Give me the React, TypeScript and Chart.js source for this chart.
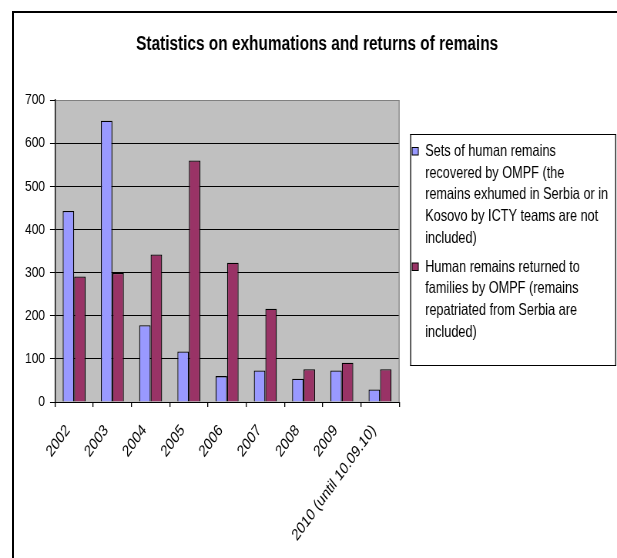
import React, { useEffect, useRef } from 'react';
import { Chart, registerables } from 'chart.js';

Chart.register(...registerables);

// The reference is horizontally compressed; draw wide, display squashed.
const R = 0.77;
const W = 617;
const H = 558;
const IW = Math.round(W / R);

const chartTitle = 'Statistics on exhumations and returns of remains';
const categories = ['2002', '2003', '2004', '2005', '2006', '2007', '2008', '2009', '2010 (until 10.09.10)'];
const recoveredValues = [443, 652, 178, 117, 60, 73, 54, 73, 29];
const returnedValues = [291, 299, 342, 560, 323, 216, 76, 91, 76];
const yTickValues = [0, 100, 200, 300, 400, 500, 600, 700];
const recoveredLegendLines = [
  'Sets of human remains',
  'recovered by OMPF (the',
  'remains exhumed in Serbia or in',
  'Kosovo by ICTY teams are not',
  'included)',
];
const returnedLegendLines = [
  'Human remains returned to',
  'families by OMPF (remains',
  'repatriated from Serbia are',
  'included)',
];

const FONT = '"Liberation Sans", Arial, sans-serif';
const sx = (x: number) => x / R;

const decorPlugin = {
  id: 'decor',
  beforeDraw(chart: any) {
    const { ctx, chartArea } = chart;
    ctx.save();
    ctx.fillStyle = '#C0C0C0';
    ctx.fillRect(chartArea.left, chartArea.top, chartArea.right - chartArea.left, chartArea.bottom - chartArea.top);
    ctx.restore();
  },
  afterDraw(chart: any) {
    const { ctx, chartArea } = chart;
    ctx.save();
    // plot area right border
    ctx.strokeStyle = '#808080';
    ctx.lineWidth = 1.3;
    ctx.beginPath();
    ctx.moveTo(chartArea.right, chartArea.top);
    ctx.lineTo(chartArea.right, chartArea.bottom);
    ctx.stroke();

    // title
    ctx.fillStyle = '#000';
    ctx.font = `bold 20px ${FONT}`;
    ctx.textAlign = 'center';
    ctx.textBaseline = 'middle';
    ctx.fillText(chartTitle, sx(317), 44);

    // legend box
    const bx = sx(410);
    const bw = sx(616) - bx;
    ctx.fillStyle = '#fff';
    ctx.fillRect(bx, 134, bw, 232);
    ctx.strokeStyle = '#000';
    ctx.lineWidth = 1;
    ctx.beginPath();
    ctx.moveTo(bx, 134.5);
    ctx.lineTo(bx + bw, 134.5);
    ctx.moveTo(bx, 365.5);
    ctx.lineTo(bx + bw, 365.5);
    ctx.stroke();
    ctx.lineWidth = 1.3;
    ctx.beginPath();
    ctx.moveTo(bx + 0.65, 134);
    ctx.lineTo(bx + 0.65, 366);
    ctx.moveTo(bx + bw - 0.65, 134);
    ctx.lineTo(bx + bw - 0.65, 366);
    ctx.stroke();

    const items = [
      { lines: recoveredLegendLines, color: chart.data.datasets[0].backgroundColor, y0: 151.5 },
      { lines: returnedLegendLines, color: chart.data.datasets[1].backgroundColor, y0: 267 },
    ];
    ctx.font = `16.5px ${FONT}`;
    ctx.textAlign = 'left';
    ctx.textBaseline = 'middle';
    items.forEach((it) => {
      ctx.fillStyle = it.color;
      ctx.fillRect(sx(412), it.y0 - 4, 8, 7.5);
      ctx.strokeStyle = '#000';
      ctx.lineWidth = 1;
      ctx.strokeRect(sx(412), it.y0 - 4, 8, 7.5);
      ctx.fillStyle = '#000';
      it.lines.forEach((ln, i) => {
        ctx.fillText(ln, sx(425), it.y0 + i * 21.7);
      });
    });
    ctx.restore();
  },
};

export default function App() {
  const ref = useRef<HTMLCanvasElement | null>(null);

  useEffect(() => {
    if (!ref.current) return;
    const chart = new Chart(ref.current, {
      type: 'bar',
      data: {
        labels: categories,
        datasets: [
          {
            label: recoveredLegendLines.join(' '),
            data: recoveredValues,
            backgroundColor: '#9999FF',
            borderColor: '#000',
            borderWidth: 1.3,
            categoryPercentage: 0.6,
            barPercentage: 1,
          },
          {
            label: returnedLegendLines.join(' '),
            data: returnedValues,
            backgroundColor: '#993366',
            borderColor: '#000',
            borderWidth: 1.3,
            categoryPercentage: 0.6,
            barPercentage: 1,
          },
        ],
      },
      options: {
        responsive: false,
        maintainAspectRatio: false,
        devicePixelRatio: 1,
        animation: false,
        layout: { padding: { top: 100, left: 0, right: IW - sx(399), bottom: 0 } },
        plugins: {
          legend: { display: false },
          title: { display: false },
          tooltip: { enabled: false },
        },
        scales: {
          x: {
            afterFit: (scale: any) => {
              scale.height = H - 402;
            },
            grid: {
              display: true,
              drawOnChartArea: false,
              drawTicks: true,
              tickLength: 5,
              offset: true,
              color: '#000',
              lineWidth: 1.3,
            },
            border: { display: true, color: '#000', width: 1 },
            ticks: {
              autoSkip: false,
              minRotation: 47,
              maxRotation: 47,
              padding: 14,
              labelOffset: -8,
              color: '#000',
              font: { family: FONT, size: 16.5 },
            },
          },
          y: {
            min: 0,
            max: 700,
            afterFit: (scale: any) => {
              scale.width = sx(55);
            },
            afterBuildTicks: (scale: any) => {
              scale.ticks = yTickValues.map((v) => ({ value: v }));
            },
            grid: {
              color: (c: any) => (c.tick && c.tick.value === 700 ? '#808080' : '#000'),
              tickColor: '#000',
              lineWidth: 1,
              tickLength: 6.5,
              drawTicks: true,
            },
            border: { display: true, color: '#000', width: 1.3 },
            ticks: {
              padding: 6.5,
              color: '#000',
              font: { family: FONT, size: 15.5 },
            },
          },
        },
      },
      plugins: [decorPlugin],
    });
    return () => chart.destroy();
  }, []);

  return (
    <div
      style={{
        position: 'fixed',
        left: 0,
        top: 0,
        width: W,
        height: H,
        background: '#fff',
        overflow: 'hidden',
      }}
    >
      <div
        style={{
          position: 'absolute',
          left: 12,
          top: 11,
          width: 1000,
          height: 1000,
          borderLeft: '2px solid #000',
          borderTop: '2px solid #000',
        }}
      />
      <canvas
        ref={ref}
        width={IW}
        height={H}
        style={{ position: 'absolute', left: 0, top: 0, width: W + 'px', height: H + 'px' }}
      />
    </div>
  );
}
